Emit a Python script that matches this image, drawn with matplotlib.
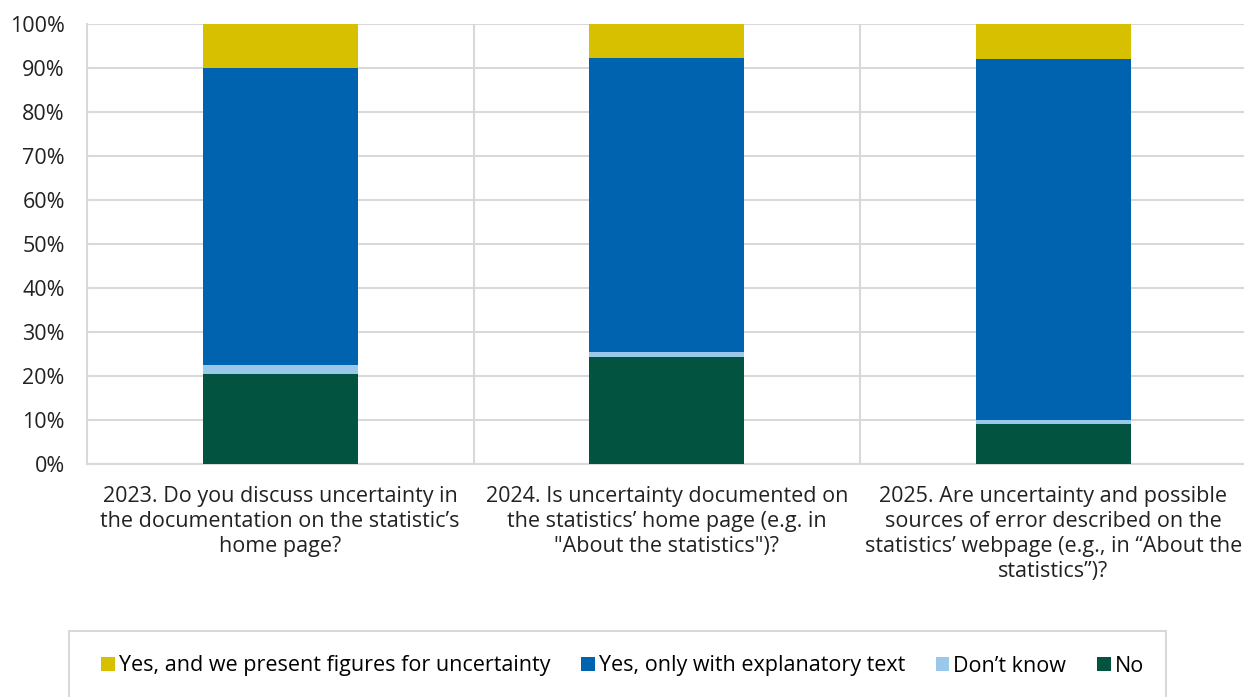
import matplotlib.pyplot as plt
import numpy as np
from matplotlib.patches import Patch, Rectangle
from matplotlib.ticker import PercentFormatter

plt.rcParams['font.family'] = ['Open Sans', 'DejaVu Sans']
plt.rcParams['font.size'] = 15.5

# survey questions, one per year
questions = [
    "2023. Do you discuss uncertainty in\nthe documentation on the statistic\u2019s\nhome page?",
    "2024. Is uncertainty documented on\nthe statistics\u2019 home page (e.g. in\n\"About the statistics\")?",
    "2025. Are uncertainty and possible\nsources of error described on the\nstatistics\u2019 webpage (e.g., in \u201cAbout the\nstatistics\u201d)?",
]

# answer shares in percent, bottom to top
no = [20.5, 24.4, 9.2]
dont_know = [1.9, 1.0, 0.8]
yes_text = [67.6, 66.9, 82.1]
yes_figures = [10.0, 7.7, 7.9]

series = [
    ("No", no, "#02533f"),
    ("Don\u2019t know", dont_know, "#9ac8eb"),
    ("Yes, only with explanatory text", yes_text, "#0063af"),
    ("Yes, and we present figures for uncertainty", yes_figures, "#d6c000"),
]

grid_col = "#d9d9d9"

fig = plt.figure(figsize=(12.44, 6.97), dpi=100)
ax = fig.add_axes([87 / 1244, 1 - 464 / 697, (1246.5 - 87) / 1244, (464 - 24) / 697])

x = np.arange(len(questions))
bottom = np.zeros(len(questions))
for name, vals, col in series:
    ax.bar(x, vals, width=0.4, bottom=bottom, color=col, zorder=3)
    bottom += np.array(vals)

ax.set_xlim(-0.5, len(questions) - 0.5)
ax.set_ylim(0, 100)
ax.set_yticks(range(0, 101, 10))
ax.yaxis.set_major_formatter(PercentFormatter(decimals=0))
ax.yaxis.grid(True, color=grid_col, linewidth=1.5, zorder=0)
for b in np.arange(0.5, len(questions) - 0.5, 1):
    ax.axvline(b, color=grid_col, linewidth=1.5, zorder=0)

for s in ["top", "right"]:
    ax.spines[s].set_visible(False)
for s in ["left", "bottom"]:
    ax.spines[s].set_color(grid_col)
    ax.spines[s].set_linewidth(1.5)

ax.set_xticks(x)
ax.set_xticklabels(questions, linespacing=1.25, va="top")
ax.tick_params(axis="x", length=0, pad=15.5)
ax.tick_params(axis="y", length=0, pad=16)
ax.tick_params(colors="#222222")

# legend box
fig.patches.append(Rectangle((69 / 1244, -0.05), (1166 - 69) / 1244, 0.05 + (697 - 631) / 697,
                             transform=fig.transFigure, fill=False,
                             edgecolor=grid_col, linewidth=1.5))
handles = [Patch(facecolor=col, label=name) for name, vals, col in reversed(series)]
fig.legend(handles=handles, loc="center", bbox_to_anchor=(622.5 / 1244, 1 - 666 / 697),
           ncol=4, frameon=False, handlelength=0.63, handleheight=0.63,
           handletextpad=0.19, columnspacing=1.43)

fig.savefig("out.png", dpi=100)
